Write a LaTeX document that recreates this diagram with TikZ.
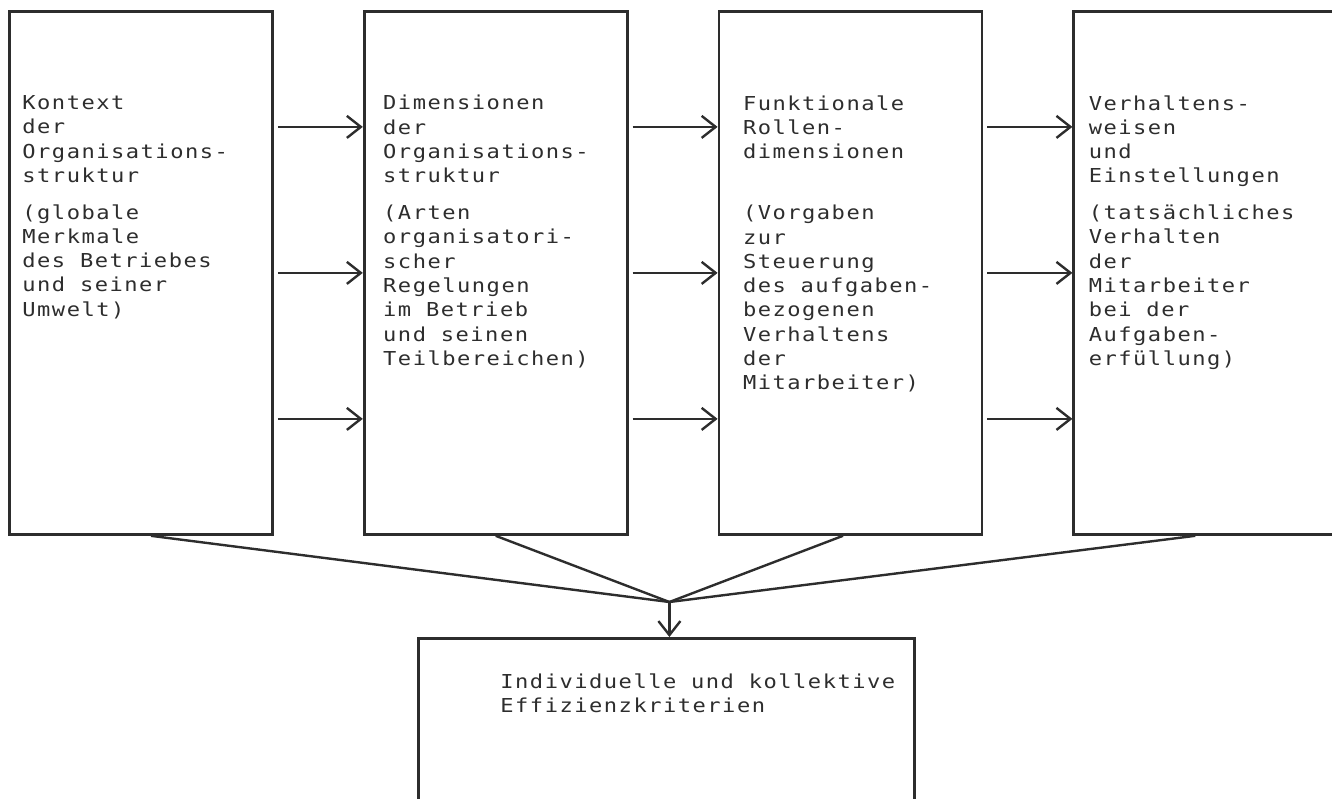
\documentclass[tikz,border=0pt]{standalone}
\usepackage{fontspec}
\usepackage{tikz}
\usetikzlibrary{arrows.meta, positioning}
\newfontfamily\plotfont[FakeStretch=1.15, LetterSpace=7.8]{DejaVu Sans Mono}
\definecolor{inkgray}{RGB}{45,45,45}

\begin{document}
\begin{tikzpicture}[
    node distance=44.5pt,
    box/.style={rectangle, draw=inkgray, line width=1.4pt, minimum width=131.5pt, minimum height=261.5pt, inner sep=0pt},
    effbox/.style={box, minimum width=248pt, minimum height=100pt},
    txt/.style={anchor=north west, inner sep=0pt, align=left, text=inkgray, font={\plotfont\fontsize{9.6pt}{12.15pt}\selectfont}},
    arrow/.style={draw=inkgray, line width=1.2pt, -{Straight Barb[length=7pt, width=11pt, line width=1.2pt]}},
    link/.style={draw=inkgray, line width=1.2pt}
]
    \useasboundingbox (-4pt,5pt) rectangle (662pt,-394pt);
    \clip (-4pt,5pt) rectangle (662pt,-394pt);

    \node[box, anchor=north west] (kontext) at (0,0) {};
    \node[box, right=of kontext] (dimension) {};
    \node[box, right=of dimension] (rolle) {};
    \node[box, right=of rolle] (verhalten) {};
    \node[effbox, anchor=north west] (effizienz) at (204.5pt,-313.5pt) {};

    \node[txt] (kontexttxt) at ([xshift=7pt, yshift=-42.5pt]kontext.north west)
        {Kontext\\der\\Organisations-\\struktur\\[6.2pt](globale\\Merkmale\\des Betriebes\\und seiner\\Umwelt)};
    \node[txt] (dimensiontxt) at ([xshift=10pt, yshift=-42.5pt]dimension.north west)
        {Dimensionen\\der\\Organisations-\\struktur\\[6.2pt](Arten\\organisatori-\\scher\\Regelungen\\im Betrieb\\und seinen\\Teilbereichen)};
    \node[txt] (rolletxt) at ([xshift=12.5pt, yshift=-42.5pt]rolle.north west)
        {Funktionale\\Rollen-\\dimensionen\\[18.4pt](Vorgaben\\zur\\Steuerung\\des aufgaben-\\bezogenen\\Verhaltens\\der\\Mitarbeiter)};
    \node[txt] (verhaltentxt) at ([xshift=8pt, yshift=-42.5pt]verhalten.north west)
        {Verhaltens-\\weisen\\und\\Einstellungen\\[6.2pt](tatsächliches\\Verhalten\\der\\Mitarbeiter\\bei der\\Aufgaben-\\erfüllung)};
    \node[txt] (effizienztxt) at ([xshift=41.5pt, yshift=-18pt]effizienz.north west)
        {Individuelle und kollektive\\Effizienzkriterien};

    \foreach \a/\b in {kontext/dimension, dimension/rolle, rolle/verhalten}
        \foreach \dy in {73pt, 0pt, -73pt}
            \draw[arrow] ([xshift=2pt, yshift=\dy]\a.east) -- ([yshift=\dy]\b.west);

    \coordinate (meet) at ([xshift=1.5pt, yshift=17.5pt]effizienz.north);
    \draw[link] ([xshift=5pt]kontext.south) -- (meet);
    \draw[link] (dimension.south) -- (meet);
    \draw[link] ([xshift=-3.75pt]rolle.south) -- (meet);
    \draw[link] ([xshift=-5pt]verhalten.south) -- (meet);
    \draw[arrow] (meet) -- (meet |- effizienz.north);
\end{tikzpicture}
\end{document}
